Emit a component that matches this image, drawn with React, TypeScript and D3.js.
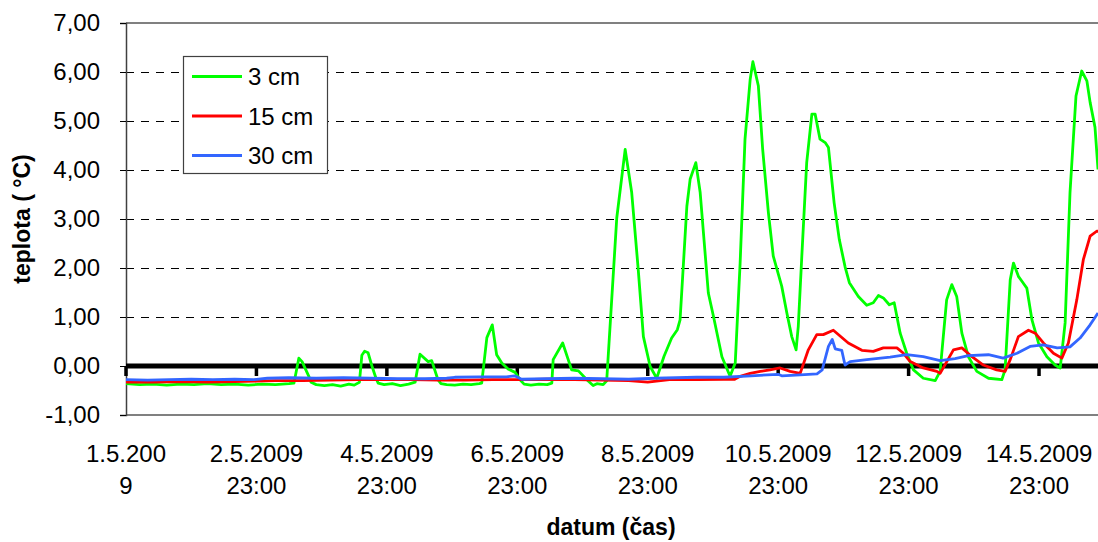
import React, { useRef, useEffect } from 'react'
import * as d3 from 'd3'

// hours from 1.5.2009 00:00, temperature in °C
const series3cm: [number, number][] = [
  [0, -0.36], [5, -0.38], [10, -0.37], [15, -0.39], [20, -0.37], [25, -0.38], [30, -0.36],
  [35, -0.38], [40, -0.37], [45, -0.39], [50, -0.37], [55, -0.38], [60, -0.36],
  [61.8, -0.35], [63.6, 0.16], [64.8, 0.09], [67.2, -0.2], [68.1, -0.33],
  [70, -0.38], [73, -0.4], [76, -0.38], [79, -0.41], [82, -0.37], [84, -0.39],
  [85.9, -0.33], [86.8, 0.22], [87.8, 0.3], [89.1, 0.27], [90.5, 0.0], [92.0, -0.25], [92.8, -0.35],
  [95, -0.38], [98, -0.36], [101, -0.4], [104, -0.37],
  [106.4, -0.33], [108.2, 0.24], [111.2, 0.09], [112.5, 0.11], [114.8, -0.28], [115.9, -0.36],
  [118, -0.38], [121, -0.39], [124, -0.37], [127, -0.38], [130, -0.36],
  [130.9, -0.35], [132.8, 0.58], [134.8, 0.84], [136.4, 0.23], [138.3, 0.06], [140.6, -0.06],
  [143.2, -0.13], [145.0, -0.28], [146.5, -0.37], [149, -0.39], [152, -0.37], [155, -0.38],
  [156.7, -0.35], [157.2, 0.13], [160.7, 0.47], [164.0, -0.08], [166.5, -0.1], [169.6, -0.28],
  [171.9, -0.4], [173.3, -0.36], [175.6, -0.38], [176.9, -0.3],
  [180.6, 3.02], [183.7, 4.42], [186.1, 3.54], [188.5, 1.97], [190.4, 0.6], [192.9, -0.01],
  [195.3, -0.25], [198.0, 0.2], [200.8, 0.57], [202.9, 0.74], [203.9, 0.94], [206.4, 3.26],
  [207.6, 3.81], [209.7, 4.15], [211.3, 3.54], [214.3, 1.49], [216.2, 1.01], [219.3, 0.19],
  [222.3, -0.21], [224.2, 0.06], [226.0, 2.1], [227.8, 4.63], [229.7, 5.85], [230.7, 6.21],
  [232.7, 5.72], [234.3, 4.42], [236.4, 3.13], [238.2, 2.24], [241.3, 1.63], [243.2, 1.08],
  [245.0, 0.6], [246.6, 0.33], [247.4, 0.81], [248.7, 2.24], [250.5, 4.15], [252.4, 5.14],
  [253.6, 5.14], [255.4, 4.63], [257.3, 4.56], [258.5, 4.46], [260.6, 3.33], [262.5, 2.58],
  [264.6, 2.03], [266.2, 1.7], [269.5, 1.42], [272.6, 1.24], [275.0, 1.29], [276.9, 1.44],
  [278.7, 1.39], [280.9, 1.25], [282.7, 1.29], [284.9, 0.67], [287.3, 0.26], [289.8, -0.08],
  [293.4, -0.25], [297.8, -0.3], [299.6, -0.11], [302.0, 1.35], [303.9, 1.66], [305.7, 1.42],
  [307.6, 0.67], [310.0, 0.19], [313.1, -0.11], [317.4, -0.25], [322.3, -0.28], [323.5, -0.08],
  [325.4, 1.76], [326.6, 2.1], [328.4, 1.83], [329.7, 1.73], [331.5, 1.59], [333.4, 0.94],
  [335.8, 0.47], [338.9, 0.19], [341.9, 0.02], [343.8, -0.04], [345.6, 0.88], [347.4, 3.54],
  [349.6, 5.51], [351.7, 6.02], [353.6, 5.82], [354.8, 5.38], [356.6, 4.87], [357.7, 4.01],
]

const series15cm: [number, number][] = [
  [0, -0.33], [10, -0.33], [20, -0.32], [30, -0.33], [40, -0.32], [48, -0.31], [55, -0.3],
  [65, -0.3], [75, -0.29], [85, -0.28], [95, -0.27], [105, -0.28], [115, -0.29], [125, -0.29],
  [135, -0.28], [145, -0.28], [155, -0.27], [165, -0.28], [175, -0.29], [185, -0.3],
  [192, -0.33], [200, -0.28], [210, -0.28], [220, -0.27], [224, -0.27],
  [226.0, -0.21], [229.7, -0.15], [233.4, -0.11], [237.0, -0.08], [240.7, -0.04], [244.4, -0.11],
  [248.1, -0.15], [251.1, 0.33], [254.2, 0.64], [256.6, 0.64], [260.3, 0.73], [265.8, 0.47],
  [270.8, 0.32], [275.0, 0.3], [278.7, 0.37], [283.7, 0.37], [286.1, 0.26], [288.6, 0.09],
  [293.4, -0.04], [298.4, -0.11], [299.6, -0.15], [304.5, 0.33], [307.6, 0.37], [311.3, 0.19],
  [315.5, 0.02], [320.4, -0.08], [323.5, -0.11], [325.4, 0.13], [328.4, 0.6], [332.1, 0.73],
  [334.6, 0.67], [337.6, 0.47], [341.3, 0.26], [344.4, 0.16], [346.8, 0.47], [349.9, 1.35],
  [352.3, 2.17], [354.8, 2.65], [357.2, 2.75], [357.7, 2.75],
]

const series30cm: [number, number][] = [
  [0, -0.28], [8, -0.29], [16, -0.28], [24, -0.27], [32, -0.28], [40, -0.27], [47, -0.28],
  [52, -0.25], [60, -0.24], [70, -0.25], [80, -0.24], [90, -0.25], [100, -0.26], [110, -0.26],
  [118, -0.25], [121, -0.23], [130, -0.22], [140, -0.22], [143, -0.2], [145.6, -0.27],
  [155, -0.26], [165, -0.25], [175, -0.26], [185, -0.27], [195, -0.25], [210, -0.23],
  [220, -0.23], [230, -0.2], [240, -0.17], [241.3, -0.2], [248.1, -0.18], [254.3, -0.16],
  [256.2, -0.08], [258.5, 0.4], [259.9, 0.54], [261, 0.35], [263.4, 0.32], [264.6, 0.02],
  [266.5, 0.09], [272.6, 0.13], [281.2, 0.18], [287.3, 0.23], [293.4, 0.19], [299.6, 0.11],
  [305.1, 0.15], [310, 0.21], [317.4, 0.23], [322.8, 0.16], [327.9, 0.26], [332.7, 0.4],
  [337.5, 0.43], [342.7, 0.37], [347.4, 0.39], [351.1, 0.57], [354.8, 0.84], [357.7, 1.08],
]

const seriesNames = ['3 cm', '15 cm', '30 cm']
const seriesColors = ['#00ff00', '#ff0000', '#3366ff']

const yTicks = [-1, 0, 1, 2, 3, 4, 5, 6, 7]
const xTickHours = [0, 48, 96, 144, 192, 240, 288, 336]
const xTickLabels = [
  ['1.5.200', '9'],
  ['2.5.2009', '23:00'],
  ['4.5.2009', '23:00'],
  ['6.5.2009', '23:00'],
  ['8.5.2009', '23:00'],
  ['10.5.2009', '23:00'],
  ['12.5.2009', '23:00'],
  ['14.5.2009', '23:00'],
]

const font = 'Liberation Sans, Arial, sans-serif'

export default function App() {
  const svgRef = useRef<SVGSVGElement>(null)

  useEffect(() => {
    if (!svgRef.current) return
    const svg = d3.select(svgRef.current)
    svg.selectAll('*').remove()

    const left = 126, right = 1098, top = 23, bottom = 415
    const x = d3.scaleLinear().domain([0, 357.7]).range([left, right])
    const y = d3.scaleLinear().domain([-1, 7]).range([bottom, top])

    svg.append('defs').append('clipPath').attr('id', 'plot')
      .append('rect').attr('x', left).attr('y', top - 2).attr('width', right - left).attr('height', bottom - top + 4)

    // dashed gridlines
    svg.append('g')
      .selectAll('line')
      .data(yTicks.filter(d => d > 0 && d < 7))
      .join('line')
      .attr('x1', left).attr('x2', right)
      .attr('y1', d => Math.round(y(d)) + 0.5).attr('y2', d => Math.round(y(d)) + 0.5)
      .attr('stroke', '#000').attr('stroke-width', 1).attr('stroke-dasharray', '8,7')
      .attr('shape-rendering', 'crispEdges')

    // frame top/bottom
    svg.append('line').attr('x1', left).attr('x2', right).attr('y1', top).attr('y2', top)
      .attr('stroke', '#808080').attr('stroke-width', 2).attr('shape-rendering', 'crispEdges')
    svg.append('line').attr('x1', left).attr('x2', right).attr('y1', bottom).attr('y2', bottom)
      .attr('stroke', '#808080').attr('stroke-width', 2).attr('shape-rendering', 'crispEdges')

    // y axis
    const yAxis = svg.append('g')
      .attr('transform', `translate(${left},0)`)
      .call(d3.axisLeft(y).tickValues(yTicks).tickSize(6).tickPadding(20)
        .tickFormat(d => (d as number).toFixed(2).replace('.', ',')))
    yAxis.select('.domain').attr('stroke', '#404040').attr('stroke-width', 1.5)
    yAxis.selectAll('line').attr('stroke', '#000').attr('shape-rendering', 'crispEdges')
    yAxis.selectAll('text').attr('font-family', font).attr('font-size', 24).attr('fill', '#000')

    // zero line with category ticks
    svg.append('line').attr('x1', left).attr('x2', right).attr('y1', y(0)).attr('y2', y(0))
      .attr('stroke', '#000').attr('stroke-width', 5)
    svg.append('g')
      .selectAll('line')
      .data(xTickHours)
      .join('line')
      .attr('x1', d => x(d)).attr('x2', d => x(d))
      .attr('y1', y(0)).attr('y2', y(0) + 10)
      .attr('stroke', '#000').attr('stroke-width', 3.5)

    // x tick labels
    const xl = svg.append('g')
      .selectAll('text')
      .data(xTickHours)
      .join('text')
      .attr('x', d => x(d))
      .attr('text-anchor', 'middle')
      .attr('font-family', font).attr('font-size', 24).attr('fill', '#000')
    xl.append('tspan').attr('x', d => x(d)).attr('y', 462).text((_, i) => xTickLabels[i][0])
    xl.append('tspan').attr('x', d => x(d)).attr('y', 494).text((_, i) => xTickLabels[i][1])

    // series
    const line = d3.line<[number, number]>()
      .x(d => x(d[0]))
      .y(d => y(d[1]))
    const allSeries = [series3cm, series15cm, series30cm]
    svg.append('g').attr('clip-path', 'url(#plot)')
      .selectAll('path')
      .data(allSeries)
      .join('path')
      .attr('d', d => line(d))
      .attr('fill', 'none')
      .attr('stroke', (_, i) => seriesColors[i])
      .attr('stroke-width', 2.8)
      .attr('stroke-linejoin', 'round')

    // legend
    const lg = svg.append('g')
    lg.append('rect').attr('x', 183.5).attr('y', 56.5).attr('width', 144).attr('height', 117)
      .attr('fill', '#fff').attr('stroke', '#404040').attr('stroke-width', 1.2)
    seriesNames.forEach((name, i) => {
      const cy = 76.5 + i * 39.5
      lg.append('line').attr('x1', 192).attr('x2', 242).attr('y1', cy).attr('y2', cy)
        .attr('stroke', seriesColors[i]).attr('stroke-width', 2.8)
      lg.append('text').attr('x', 248).attr('y', cy + 8.5)
        .attr('font-family', font).attr('font-size', 24).attr('fill', '#000').text(name)
    })

    // axis titles
    svg.append('text')
      .attr('transform', `translate(30,${(top + bottom) / 2}) rotate(-90)`)
      .attr('text-anchor', 'middle')
      .attr('font-family', font).attr('font-size', 23).attr('font-weight', 'bold')
      .text('teplota ( °C)')
    svg.append('text')
      .attr('x', 611).attr('y', 535)
      .attr('text-anchor', 'middle')
      .attr('font-family', font).attr('font-size', 23).attr('font-weight', 'bold')
      .text('datum (čas)')
  }, [])

  return (
    <div style={{ position: 'absolute', left: 0, top: 0, background: '#fff' }}>
      <svg ref={svgRef} width={1098} height={542} style={{ display: 'block' }} />
    </div>
  )
}
